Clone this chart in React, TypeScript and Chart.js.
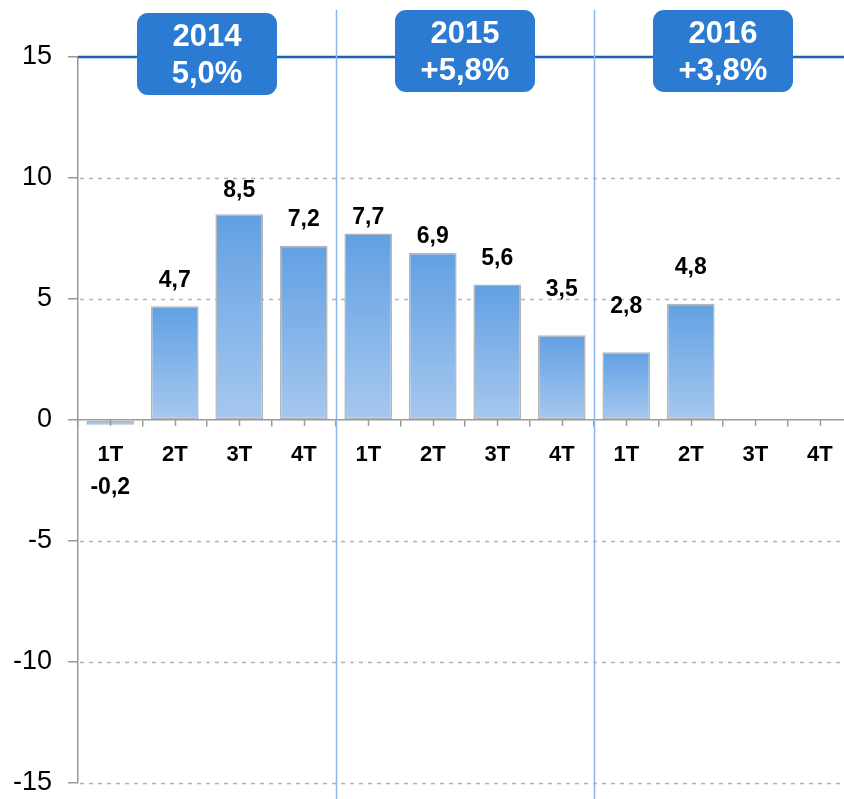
import React, { useEffect, useRef } from "react";
import { Chart, registerables } from "chart.js";

Chart.register(...registerables);

const quarters = ["1T", "2T", "3T", "4T", "1T", "2T", "3T", "4T", "1T", "2T", "3T", "4T"];
const growth: (number | null)[] = [-0.2, 4.7, 8.5, 7.2, 7.7, 6.9, 5.6, 3.5, 2.8, 4.8, null, null];
const valueLabels = ["-0,2", "4,7", "8,5", "7,2", "7,7", "6,9", "5,6", "3,5", "2,8", "4,8", "", ""];
const labelGap = [63, 26, 24, 26, 16, 16, 26, 46, 46, 36, 0, 0];
const years = ["2014", "2015", "2016"];
const yearGrowth = ["5,0%", "+5,8%", "+3,8%"];
const yearBoxTop = [13, 10, 10];
const yTicks = [-15, -10, -5, 0, 5, 10, 15];

const FONT = "'Liberation Sans', Arial, sans-serif";

const overlay = {
  id: "overlay",
  beforeDatasetsDraw(chart: any) {
    const { ctx, chartArea, scales } = chart;
    const y = scales.y;
    ctx.save();
    ctx.strokeStyle = "#b3b3b3";
    ctx.lineWidth = 1.5;
    ctx.setLineDash([4, 5]);
    yTicks.forEach((v) => {
      if (v === 0 || v === 15) return;
      const py = Math.round(y.getPixelForValue(v)) + 0.5;
      ctx.beginPath();
      ctx.moveTo(chartArea.left + 2, py);
      ctx.lineTo(chart.width, py);
      ctx.stroke();
    });
    ctx.restore();
  },
  afterDraw(chart: any) {
    const { ctx, chartArea, scales } = chart;
    const x = scales.x;
    const y = scales.y;
    const y0 = y.getPixelForValue(0);
    ctx.save();
    ctx.strokeStyle = "#999999";
    ctx.lineWidth = 1.5;
    quarters.forEach((_, i) => {
      const px = Math.round(x.getPixelForValue(i)) + 0.5;
      ctx.beginPath();
      ctx.moveTo(px, y0);
      ctx.lineTo(px, y0 + 6);
      ctx.stroke();
    });
    const y15 = y.getPixelForValue(15);
    ctx.strokeStyle = "#1b62b3";
    ctx.lineWidth = 2.5;
    ctx.beginPath();
    ctx.moveTo(chartArea.left, y15);
    ctx.lineTo(chart.width, y15);
    ctx.stroke();
    ctx.strokeStyle = "#8fb6e8";
    ctx.lineWidth = 1.5;
    [4, 8].forEach((i) => {
      const px = Math.round((x.getPixelForValue(i - 1) + x.getPixelForValue(i)) / 2) + 0.5;
      ctx.beginPath();
      ctx.moveTo(px, 10);
      ctx.lineTo(px, chart.height);
      ctx.stroke();
    });
    ctx.fillStyle = "#000000";
    ctx.font = `bold 23px ${FONT}`;
    ctx.textAlign = "center";
    ctx.textBaseline = "middle";
    growth.forEach((v, i) => {
      if (v === null) return;
      const px = x.getPixelForValue(i);
      const py = y.getPixelForValue(v);
      const ly = v >= 0 ? py - labelGap[i] : py + labelGap[i];
      ctx.fillText(valueLabels[i], px, ly);
    });
    years.forEach((yr, g) => {
      const cx = (x.getPixelForValue(g * 4) + x.getPixelForValue(g * 4 + 3)) / 2;
      const w = 140;
      const h = 82;
      const top = yearBoxTop[g];
      const left = cx - w / 2;
      ctx.fillStyle = "#2c7bd3";
      ctx.beginPath();
      (ctx as any).roundRect(left, top, w, h, 11);
      ctx.fill();
      ctx.fillStyle = "#ffffff";
      ctx.font = `bold 31px ${FONT}`;
      ctx.fillText(yr, cx, top + 24);
      ctx.fillText(yearGrowth[g], cx, top + 61);
    });
    ctx.restore();
  },
};

export default function App() {
  const ref = useRef<HTMLCanvasElement | null>(null);
  useEffect(() => {
    if (!ref.current) return;
    const chart = new Chart(ref.current, {
      type: "bar",
      data: {
        labels: quarters,
        datasets: [
          {
            data: growth as any,
            backgroundColor: (c: any) => {
              const ch = c.chart;
              const ys = ch.scales && ch.scales.y;
              const v = c.raw;
              if (!ys || v === null || v === undefined) return "#7fb0e6";
              const top = ys.getPixelForValue(Math.max(v, 0));
              const bot = ys.getPixelForValue(Math.min(v, 0));
              if (!isFinite(top) || !isFinite(bot)) return "#7fb0e6";
              const g = ch.ctx.createLinearGradient(0, top, 0, Math.max(bot, top + 1));
              g.addColorStop(0, "#62a0e2");
              g.addColorStop(1, "#a6c8ef");
              return g;
            },
            borderColor: "#b5b5b5",
            borderWidth: 1.5,
            borderSkipped: false,
            barPercentage: 0.74,
            categoryPercentage: 1,
          },
        ],
      },
      options: {
        responsive: false,
        animation: false,
        devicePixelRatio: 1,
        layout: { padding: { top: 57, bottom: 0, right: 8, left: 0 } },
        plugins: { legend: { display: false }, tooltip: { enabled: false } },
        scales: {
          x: {
            position: { y: 0 } as any,
            offset: true,
            grid: { drawOnChartArea: false, drawTicks: true, tickLength: 6, color: "#999999", lineWidth: 1.5 },
            border: { display: true, color: "#999999", width: 1.5 },
            ticks: {
              color: "#000000",
              font: { family: FONT, size: 22, weight: "bold" },
              padding: 16,
              maxRotation: 0,
              autoSkip: false,
            },
          },
          y: {
            min: -15,
            max: 15,
            afterFit: (s: any) => {
              s.width = 78;
            },
            grid: { drawOnChartArea: false, drawTicks: true, tickLength: 10, color: "#999999", lineWidth: 1.5 },
            border: { display: true, color: "#999999", width: 1.5 },
            ticks: {
              stepSize: 5,
              color: "#000000",
              padding: 16,
              font: { family: FONT, size: 27 },
            },
          },
        },
      },
      plugins: [overlay],
    });
    return () => chart.destroy();
  }, []);
  return (
    <div style={{ position: "absolute", left: 0, top: 0, width: 844, height: 799, overflow: "hidden", background: "#ffffff" }}>
      <canvas ref={ref} width={860} height={815} style={{ width: 860, height: 815, display: "block" }} />
    </div>
  );
}
